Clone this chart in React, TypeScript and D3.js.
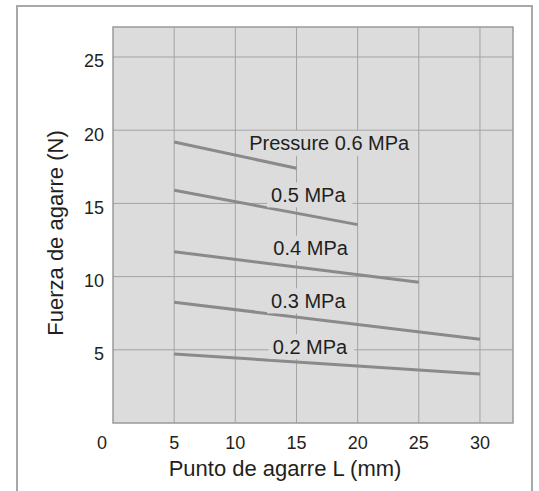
import React, { useEffect, useRef } from "react";
import * as d3 from "d3";

const pressures = ["Pressure 0.6 MPa", "0.5 MPa", "0.4 MPa", "0.3 MPa", "0.2 MPa"];
const startL = [5, 5, 5, 5, 5];
const endL = [15, 20, 25, 30, 30];
const startForce = [19.2, 15.9, 11.7, 8.25, 4.72];
const endForce = [17.4, 13.55, 9.62, 5.72, 3.34];
const labelL = [11.13, 12.92, 13.11, 12.92, 13.06];
const labelForce = [19.1, 15.58, 11.94, 8.34, 5.22];
const xTicks = [5, 10, 15, 20, 25, 30];
const yTicks = [5, 10, 15, 20, 25];

const W = 539;
const H = 491;
const plot = { left: 113, top: 27, right: 513, bottom: 423 };

export default function App() {
  const ref = useRef<SVGSVGElement | null>(null);

  useEffect(() => {
    const svg = d3.select(ref.current);
    svg.selectAll("*").remove();

    const x = d3.scaleLinear().domain([0, 32.7]).range([plot.left, plot.right]);
    const y = d3.scaleLinear().domain([0, 27.05]).range([plot.bottom, plot.top]);

    svg.append("rect").attr("width", W).attr("height", H).attr("fill", "#ffffff");
    // outer frame
    svg.append("rect")
      .attr("x", 17).attr("y", 6).attr("width", 515).attr("height", 500)
      .attr("fill", "none").attr("stroke", "#a8a8a8").attr("stroke-width", 2);

    // plot bg
    svg.append("rect")
      .attr("x", plot.left).attr("y", plot.top)
      .attr("width", plot.right - plot.left).attr("height", plot.bottom - plot.top)
      .attr("fill", "#dcdcdc");

    const grid = svg.append("g").attr("stroke", "#a3a3a3").attr("stroke-width", 1);
    xTicks.forEach((t) => {
      grid.append("line").attr("x1", x(t)).attr("x2", x(t))
        .attr("y1", plot.top).attr("y2", plot.bottom);
    });
    yTicks.forEach((t) => {
      grid.append("line").attr("x1", plot.left).attr("x2", plot.right)
        .attr("y1", y(t)).attr("y2", y(t));
    });

    // series lines
    const line = d3.line<[number, number]>().x((d) => x(d[0])).y((d) => y(d[1]));
    pressures.forEach((_, i) => {
      svg.append("path")
        .attr("d", line([[startL[i], startForce[i]], [endL[i], endForce[i]]]))
        .attr("fill", "none").attr("stroke", "#8a8a8a").attr("stroke-width", 3);
    });

    // labels with background boxes
    pressures.forEach((p, i) => {
      const g = svg.append("g");
      const rect = g.append("rect").attr("fill", "#dcdcdc");
      const txt = g.append("text")
        .attr("x", x(labelL[i])).attr("y", y(labelForce[i]))
        .attr("dy", "0.35em")
        .attr("font-family", "'Liberation Sans', Arial, sans-serif")
        .attr("font-size", 20).attr("fill", "#231f20").text(p);
      const bb = (txt.node() as SVGTextElement).getBBox();
      rect.attr("x", bb.x - 4).attr("y", y(labelForce[i]) - 12.5)
        .attr("width", bb.width + 10).attr("height", 25);
    });

    // plot frame
    svg.append("rect")
      .attr("x", plot.left).attr("y", plot.top)
      .attr("width", plot.right - plot.left).attr("height", plot.bottom - plot.top)
      .attr("fill", "none").attr("stroke", "#9a9a9a").attr("stroke-width", 1.5);

    const font = "'Liberation Sans', Arial, sans-serif";
    // y tick labels
    yTicks.forEach((t) => {
      svg.append("text").attr("x", 104).attr("y", y(t) + 4).attr("dy", "0.35em")
        .attr("text-anchor", "end").attr("font-family", font).attr("font-size", 18)
        .attr("fill", "#231f20").text(t);
    });
    // x tick labels
    xTicks.forEach((t) => {
      svg.append("text").attr("x", x(t)).attr("y", 449)
        .attr("text-anchor", "middle").attr("font-family", font).attr("font-size", 18)
        .attr("fill", "#231f20").text(t);
    });
    svg.append("text").attr("x", 102).attr("y", 449)
      .attr("text-anchor", "middle").attr("font-family", font).attr("font-size", 18)
      .attr("fill", "#231f20").text(0);

    // axis titles
    svg.append("text").attr("x", 285).attr("y", 476)
      .attr("text-anchor", "middle").attr("font-family", font).attr("font-size", 22)
      .attr("fill", "#231f20").text("Punto de agarre L (mm)");
    svg.append("text")
      .attr("transform", `translate(63,233) rotate(-90)`)
      .attr("text-anchor", "middle").attr("font-family", font).attr("font-size", 22)
      .attr("fill", "#231f20").text("Fuerza de agarre (N)");
  }, []);

  return (
    <svg
      ref={ref}
      width={W}
      height={H}
      style={{ position: "absolute", left: 0, top: 0, display: "block" }}
    />
  );
}
